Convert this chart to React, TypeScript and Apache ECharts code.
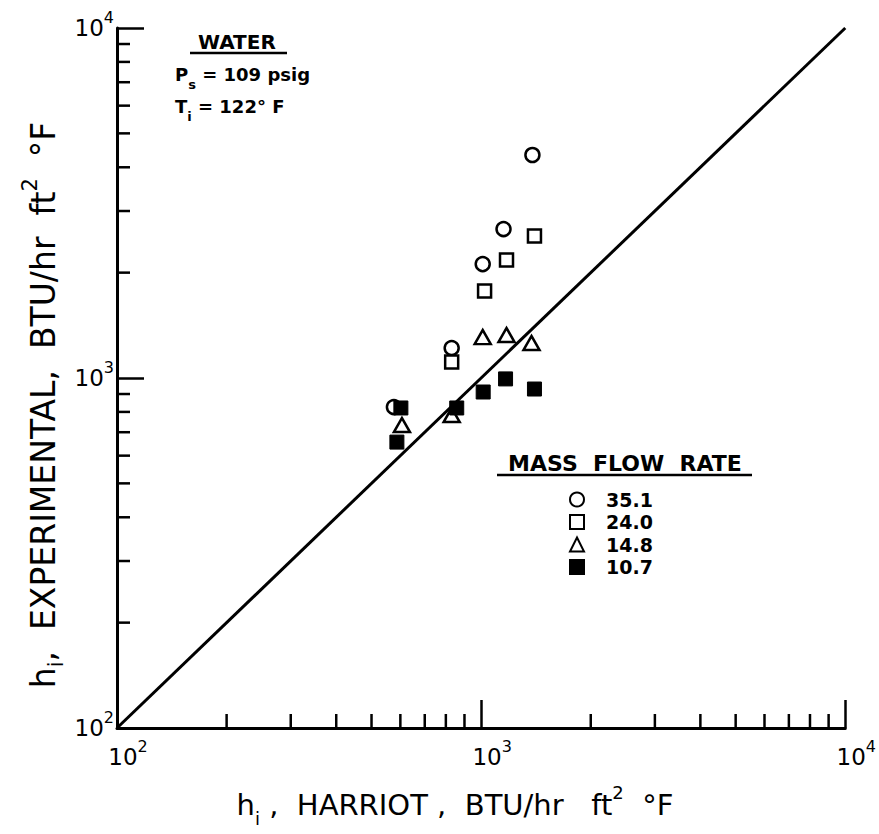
import React, { useEffect, useRef } from 'react';
import * as echarts from 'echarts';

// Mass flow rate 35.1 (open circles)
const circleX = [576, 830, 1010, 1152, 1383];
const circleY = [826, 1218, 2116, 2664, 4337];
// Mass flow rate 24.0 (open squares)
const squareX = [830, 1022, 1174, 1401];
const squareY = [1111, 1773, 2173, 2545];
// Mass flow rate 14.8 (open triangles)
const triX = [606, 830, 1010, 1174, 1375];
const triY = [734, 784, 1309, 1327, 1259];
// Mass flow rate 10.7 (filled squares)
const filledX = [587, 602, 857, 1013, 1167, 1401];
const filledY = [656, 821, 821, 912, 994, 930];

const seriesNames = ['35.1', '24.0', '14.8', '10.7'];
const axisMin = 100;
const axisMax = 10000;
const minorTicks = [200, 300, 400, 500, 600, 700, 800, 900, 2000, 3000, 4000, 5000, 6000, 7000, 8000, 9000];
const diagonal = [100, 10000];

const FONT = 'DejaVu Sans';

export default function App() {
  const ref = useRef<HTMLDivElement>(null);
  useEffect(() => {
    const chart = echarts.init(ref.current as HTMLDivElement, null, { renderer: 'svg' });
    const pair = (xs: number[], ys: number[]) => xs.map((x, i) => [x, ys[i]]);
    const labelRich = {
      p: { width: 22 },
      a: { fontSize: 23, fontFamily: FONT, color: '#000' },
      s: { fontSize: 16, fontFamily: FONT, color: '#000', padding: [0, 0, 22, 0] },
    };
    const fmtX = (v: number) => `{p|}{a|10}{s|${Math.round(Math.log10(v))}}`;
    const fmtY = (v: number) => `{a|10}{s|${Math.round(Math.log10(v))}}`;
    const openStyle = { color: '#fff', borderColor: '#000', borderWidth: 2.5, opacity: 1 };
    const tickStyle = { stroke: '#000', lineWidth: 2.5 };
    const smallRich = {
      m: { fontSize: 18, fontFamily: FONT, fontWeight: 'bold', fill: '#000' },
      b: { fontSize: 13, fontFamily: FONT, fontWeight: 'bold', fill: '#000', padding: [20, 0, 0, 0] },
    };
    const mkTitleRich = (fs: number) => ({
      m: { fontSize: fs, fontFamily: FONT, fill: '#000' },
      b: { fontSize: Math.round(fs * 0.63), fontFamily: FONT, fill: '#000', padding: [26, 0, 0, 0] },
      t: { fontSize: Math.round(fs * 0.63), fontFamily: FONT, fill: '#000', padding: [0, 0, 26, 0] },
    });

    chart.setOption({
      animation: false,
      backgroundColor: '#fff',
      grid: { left: 117, right: 31, top: 28, bottom: 106 },
      xAxis: {
        type: 'log',
        logBase: 10,
        min: axisMin,
        max: axisMax,
        axisLine: { lineStyle: { color: '#000', width: 3 } },
        axisTick: { inside: true, length: 28, lineStyle: { color: '#000', width: 2.5 } },
        splitLine: { show: false },
        axisLabel: { formatter: fmtX, rich: labelRich, margin: 10 },
      },
      yAxis: {
        type: 'log',
        logBase: 10,
        min: axisMin,
        max: axisMax,
        axisLine: { lineStyle: { color: '#000', width: 3 } },
        axisTick: { inside: true, length: 27, lineStyle: { color: '#000', width: 2.5 } },
        splitLine: { show: false },
        axisLabel: { formatter: fmtY, rich: labelRich, margin: 3 },
      },
      legend: {
        data: seriesNames,
        orient: 'vertical',
        left: 569,
        top: 490,
        padding: 0,
        itemWidth: 14,
        itemHeight: 14,
        itemGap: 3.5,
        selectedMode: false,
        textStyle: { fontSize: 19, fontFamily: FONT, fontWeight: 'bold', color: '#000', padding: [0, 0, 0, 17] },
      },
      series: [
        {
          type: 'line',
          data: pair(diagonal, diagonal),
          symbol: 'none',
          lineStyle: { color: '#000', width: 3 },
          silent: true,
        },
        {
          type: 'custom',
          silent: true,
          clip: false,
          data: minorTicks.map((v) => [v, axisMin]),
          renderItem: (_p: any, api: any) => {
            const pt = api.coord([api.value(0), axisMin]);
            return { type: 'line', shape: { x1: pt[0], y1: pt[1], x2: pt[0], y2: pt[1] - 14 }, style: tickStyle };
          },
        },
        {
          type: 'custom',
          silent: true,
          clip: false,
          data: minorTicks.map((v) => [axisMin, v]),
          renderItem: (_p: any, api: any) => {
            const pt = api.coord([axisMin, api.value(1)]);
            return { type: 'line', shape: { x1: pt[0], y1: pt[1], x2: pt[0] + 13, y2: pt[1] }, style: tickStyle };
          },
        },
        {
          name: seriesNames[0],
          type: 'scatter',
          data: pair(circleX, circleY),
          symbol: 'circle',
          symbolSize: 14,
          itemStyle: openStyle,
        },
        {
          name: seriesNames[1],
          type: 'scatter',
          data: pair(squareX, squareY),
          symbol: 'rect',
          symbolSize: 13,
          itemStyle: openStyle,
        },
        {
          name: seriesNames[2],
          type: 'scatter',
          data: pair(triX, triY),
          symbol: 'triangle',
          symbolSize: [16, 14],
          itemStyle: openStyle,
        },
        {
          name: seriesNames[3],
          type: 'scatter',
          data: pair(filledX, filledY),
          symbol: 'rect',
          symbolSize: 14,
          itemStyle: { color: '#000', borderColor: '#000', borderWidth: 1, opacity: 1 },
        },
      ],
      graphic: [
        {
          type: 'text',
          x: 198,
          y: 42,
          style: { text: 'WATER', fontSize: 20, fontWeight: 'bold', fontFamily: FONT, fill: '#000', align: 'left', verticalAlign: 'middle' },
        },
        { type: 'line', shape: { x1: 190, y1: 53, x2: 287, y2: 53 }, style: { stroke: '#000', lineWidth: 2.5 } },
        {
          type: 'text',
          x: 175,
          y: 74,
          style: { text: '{m|P}{b|s}{m| = 109 psig}', align: 'left', verticalAlign: 'middle', rich: smallRich },
        },
        {
          type: 'text',
          x: 175,
          y: 106,
          style: { text: '{m|T}{b|i}{m| = 122° F}', align: 'left', verticalAlign: 'middle', rich: smallRich },
        },
        {
          type: 'text',
          x: 625,
          y: 463,
          style: { text: 'MASS  FLOW  RATE', fontSize: 22, fontWeight: 'bold', fontFamily: FONT, fill: '#000', align: 'center', verticalAlign: 'middle' },
        },
        { type: 'line', shape: { x1: 497, y1: 475, x2: 752, y2: 475 }, style: { stroke: '#000', lineWidth: 2.5 } },
        {
          type: 'text',
          x: 455,
          y: 805,
          style: {
            text: '{m|h}{b|i}{m| ,  HARRIOT ,  BTU/hr   ft}{t|2}{m|  °F}',
            align: 'center',
            verticalAlign: 'middle',
            rich: mkTitleRich(29),
          },
        },
        {
          type: 'text',
          x: 43,
          y: 405,
          rotation: Math.PI / 2,
          style: {
            text: '{m|h}{b|i}{m|,  EXPERIMENTAL,  BTU/hr  ft}{t|2}{m|  °F}',
            align: 'center',
            verticalAlign: 'middle',
            rich: mkTitleRich(33),
          },
        },
      ],
    });
    return () => chart.dispose();
  }, []);
  return <div ref={ref} style={{ position: 'fixed', left: 0, top: 0, width: 879, height: 834 }} />;
}
